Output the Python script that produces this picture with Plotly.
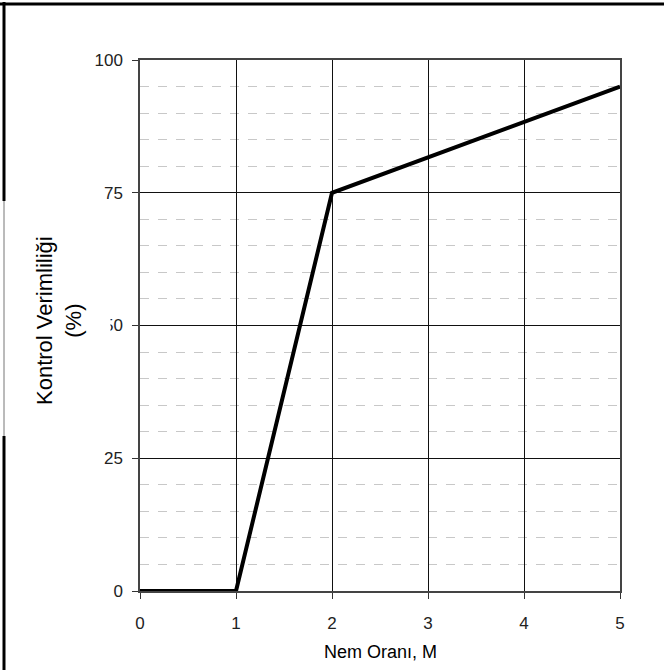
import plotly.graph_objects as go

# data
nem_orani = [0, 1, 2, 5]
verim = [0, 0, 75, 95]
x_ticks = [0, 1, 2, 3, 4, 5]
y_ticks = [0, 25, 50, 75, 100]
y_ticktext = ["0", "25", "50", "75", "100"]

W, H = 664, 670
L, R, T, B = 140, 44, 60, 79
pw, ph = W - L - R, H - T - B


def px(x):
    return (x - L) / pw


def py(y):
    return (H - B - y) / ph


fig = go.Figure()

fig.add_trace(go.Scatter(
    x=nem_orani, y=verim,
    mode="lines",
    line=dict(color="black", width=4),
    showlegend=False,
    hoverinfo="skip",
))

font = "Liberation Sans, Arial, sans-serif"

# outer frame (top + left only, thin in the middle of the left side)
frame = dict(type="line", xref="paper", yref="paper", layer="above")
fig.add_shape(**frame, x0=px(0), x1=px(W), y0=py(4), y1=py(4), line=dict(color="black", width=3))
fig.add_shape(**frame, x0=px(4), x1=px(4), y0=py(2), y1=py(201), line=dict(color="black", width=3))
fig.add_shape(**frame, x0=px(4), x1=px(4), y0=py(201), y1=py(436), line=dict(color="#777777", width=1))
fig.add_shape(**frame, x0=px(4), x1=px(4), y0=py(436), y1=py(H), line=dict(color="black", width=3))

# white box behind the y title (hides most of the "5" in "50")
fig.add_annotation(
    xref="paper", yref="paper", x=px(59), y=py(318),
    xanchor="center", yanchor="middle",
    text=" ", width=102, height=234, borderpad=0,
    bgcolor="white", showarrow=False,
)
fig.add_annotation(
    xref="paper", yref="paper", x=px(59), y=py(321),
    xanchor="center", yanchor="middle",
    text="Kontrol Verimliliği<br>(%)", textangle=-90,
    font=dict(family=font, size=22, color="black"),
    showarrow=False,
)
fig.add_annotation(
    xref="paper", yref="paper", x=0.5, y=py(652),
    xanchor="center", yanchor="middle",
    text="Nem Oranı, M",
    font=dict(family=font, size=18, color="black"),
    showarrow=False,
)

fig.update_layout(
    width=W, height=H,
    margin=dict(l=L, r=R, t=T, b=B),
    plot_bgcolor="white",
    paper_bgcolor="white",
    showlegend=False,
    font=dict(family=font, size=17, color="#222222"),
    xaxis=dict(
        range=[0, 5],
        tickvals=x_ticks,
        ticks="outside", ticklen=6, tickcolor="#333333",
        ticklabelstandoff=10,
        showgrid=True, gridcolor="#111111", gridwidth=1,
        zeroline=False,
        showline=True, linecolor="#444444", linewidth=1.5, mirror=True,
    ),
    yaxis=dict(
        range=[0, 100],
        tickvals=y_ticks,
        ticktext=y_ticktext,
        ticks="outside", ticklen=6, tickcolor="#333333",
        ticklabelstandoff=6,
        showgrid=True, gridcolor="#111111", gridwidth=1,
        zeroline=False,
        showline=True, linecolor="#444444", linewidth=1.5, mirror=True,
        minor=dict(dtick=5, showgrid=True, gridcolor="#c8c8c8",
                   griddash="dash", gridwidth=1, ticks=""),
    ),
)

fig.write_html("out.html", config={"displayModeBar": False},
               post_script="document.body.style.margin='0';")
